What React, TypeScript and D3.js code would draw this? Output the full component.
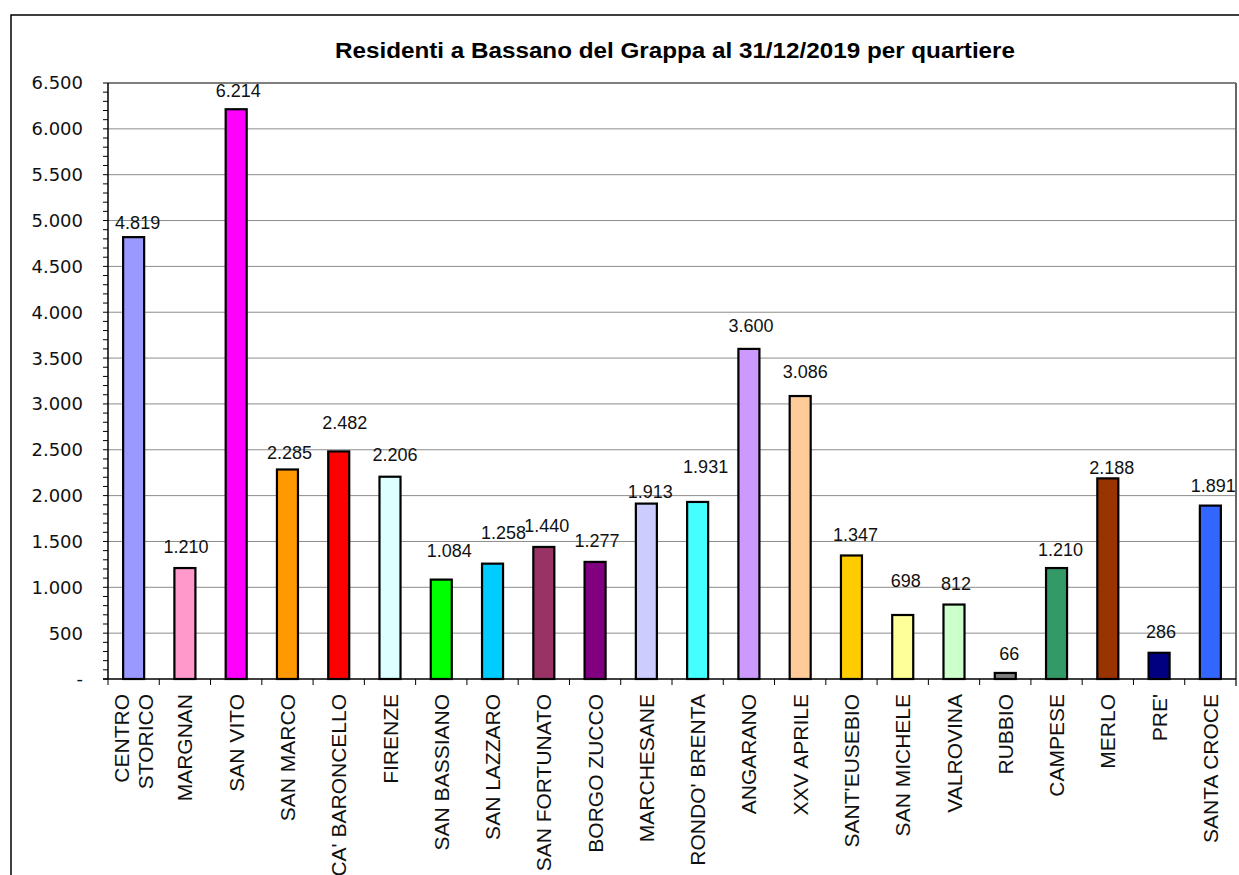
import * as d3 from "d3";

const W = 1239;
const H = 875;
const PLOT = { left: 108, right: 1236, top: 83, bottom: 679 };

const TITLE = "Residenti a Bassano del Grappa al 31/12/2019 per quartiere";

const QUARTIERI = [
  "CENTRO\nSTORICO",
  "MARGNAN",
  "SAN VITO",
  "SAN MARCO",
  "CA' BARONCELLO",
  "FIRENZE",
  "SAN BASSIANO",
  "SAN LAZZARO",
  "SAN FORTUNATO",
  "BORGO ZUCCO",
  "MARCHESANE",
  "RONDO' BRENTA",
  "ANGARANO",
  "XXV APRILE",
  "SANT'EUSEBIO",
  "SAN MICHELE",
  "VALROVINA",
  "RUBBIO",
  "CAMPESE",
  "MERLO",
  "PRE'",
  "SANTA CROCE",
];

const RESIDENTI = [
  4819, 1210, 6214, 2285, 2482, 2206, 1084, 1258, 1440, 1277, 1913, 1931, 3600,
  3086, 1347, 698, 812, 66, 1210, 2188, 286, 1891,
];

const COLORI = [
  "#9999FF", "#FF99CC", "#FF00FF", "#FF9900", "#FF0000", "#DDFFFF",
  "#00FF00", "#00CCFF", "#993366", "#800080", "#CCCCFF", "#44FFFF",
  "#CC99FF", "#FFCC99", "#FFCC00", "#FFFF99", "#CCFFCC", "#808080",
  "#339966", "#993300", "#000080", "#3366FF",
];

const Y_TICKS = d3.range(0, 6501, 500);
const Y_MINOR = d3.range(0, 6501, 100);

// the data labels were dragged around by hand in the original chart
const LABEL_GAP = [8, 15, 12, 10, 22, 16, 23, 25, 15, 15, 6, 29, 17, 18, 14, 28, 15, 13, 12, 4, 15, 14];
const LABEL_DX = [4, 1, 2, 2, 6, 5, 8, 11, 3, 2, 4, 8, 2, 5, 4, 3, 2, 4, 4, 4, 2, 3];

const fmt = (v: number) => (v === 0 ? "-" : d3.format(",")(v).replace(/,/g, "."));

export default function App() {
  const xScale = d3
    .scaleBand<string>()
    .domain(QUARTIERI)
    .range([PLOT.left, PLOT.right])
    .padding(0);
  const step = xScale.step();
  const barW = step * 0.41;

  const yScale = d3.scaleLinear().domain([0, 6500]).range([PLOT.bottom, PLOT.top]);

  return (
    <svg
      width={W}
      height={H}
      style={{ position: "absolute", left: 0, top: 0, background: "#fff" }}
    >
      <rect x={11} y={15} width={W + 50} height={H + 50} fill="#fff" stroke="#000" strokeWidth={1.5} />

      <text
        x={675}
        y={58}
        textAnchor="middle"
        textLength={680}
        lengthAdjust="spacingAndGlyphs"
        style={{ fontFamily: "Liberation Sans, Arial, sans-serif", fontWeight: "bold", fontSize: "22px" }}
      >
        {TITLE}
      </text>

      {/* gridlines */}
      {Y_TICKS.filter((t) => t > 0).map((t) => (
        <line
          key={"g" + t}
          x1={PLOT.left}
          x2={PLOT.right}
          y1={yScale(t)}
          y2={yScale(t)}
          stroke={t === 6500 ? "#000" : "#8c8c8c"}
          strokeWidth={1}
        />
      ))}

      {/* right border of plot area */}
      <line x1={PLOT.right} x2={PLOT.right} y1={PLOT.top} y2={PLOT.bottom + 7} stroke="#666" strokeWidth={2} />

      {/* bars */}
      {QUARTIERI.map((q, i) => {
        const cx = xScale(q)! + step / 2;
        const v = RESIDENTI[i];
        return (
          <g key={q}>
            <rect
              x={cx - barW / 2}
              y={yScale(v)}
              width={barW}
              height={PLOT.bottom - yScale(v)}
              fill={COLORI[i]}
              stroke="#000"
              strokeWidth={2.2}
            />
            <text
              x={cx + LABEL_DX[i]}
              y={yScale(v) - LABEL_GAP[i]}
              textAnchor="middle"
              style={{ fontFamily: "Liberation Sans, Arial, sans-serif", fontSize: "18px" }}
              fill="#111"
            >
              {fmt(v)}
            </text>
          </g>
        );
      })}

      {/* y axis */}
      <line x1={PLOT.left} x2={PLOT.left} y1={PLOT.top} y2={PLOT.bottom} stroke="#000" strokeWidth={1.5} />
      {Y_MINOR.map((t) => (
        <line key={"m" + t} x1={PLOT.left - 5} x2={PLOT.left} y1={yScale(t)} y2={yScale(t)} stroke="#000" />
      ))}
      {Y_TICKS.map((t) => (
        <text
          key={"t" + t}
          x={83}
          y={yScale(t)}
          dy="0.36em"
          textAnchor="end"
          style={{ fontFamily: "DejaVu Sans, sans-serif", fontSize: "18px" }}
          fill="#111"
        >
          {fmt(t)}
        </text>
      ))}

      {/* x axis */}
      <line x1={PLOT.left - 5} x2={PLOT.right} y1={PLOT.bottom} y2={PLOT.bottom} stroke="#000" strokeWidth={1.5} />
      {QUARTIERI.map((q) => (
        <line
          key={"xt" + q}
          x1={xScale(q)!}
          x2={xScale(q)!}
          y1={PLOT.bottom}
          y2={PLOT.bottom + 6}
          stroke="#000"
        />
      ))}
      {QUARTIERI.map((q) => {
        const cx = xScale(q)! + step / 2;
        const lines = q.split("\n");
        return (
          <g key={"xl" + q}>
            {lines.map((ln, j) => (
              <text
                key={ln}
                transform={`translate(${cx + (j - (lines.length - 1) / 2) * 24.5}, 694) rotate(-90)`}
                textAnchor="end"
                dominantBaseline="central"
                style={{ fontFamily: "Liberation Sans, Arial, sans-serif", fontSize: "21px" }}
                fill="#111"
              >
                {ln}
              </text>
            ))}
          </g>
        );
      })}
    </svg>
  );
}
